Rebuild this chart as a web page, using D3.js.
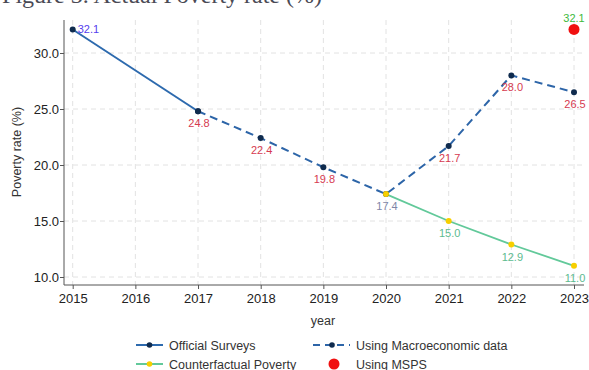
<!DOCTYPE html>
<html><head><meta charset="utf-8">
<script src="https://cdn.jsdelivr.net/npm/d3@7"></script>
<style>body{margin:0;background:#fff}svg{display:block}text{font-family:"Liberation Sans",Arial,sans-serif}</style>
</head><body><svg id="c" width="589" height="370"></svg>
<script>
const years = [2015,2016,2017,2018,2019,2020,2021,2022,2023];
const yTicks = [10,15,20,25,30];
const officialYears = [2015,2017];
const officialVals = [32.1,24.8];
const macroYears = [2017,2018,2019,2020,2021,2022,2023];
const macroVals = [24.8,22.4,19.8,17.4,21.7,28.0,26.5];
const cfYears = [2020,2021,2022,2023];
const cfVals = [17.4,15.0,12.9,11.0];
const mspsYears = [2023];
const mspsVals = [32.1];
const legendLabels = ["Official Surveys","Using Macroeconomic data","Counterfactual Poverty","Using MSPS"];

const svg = d3.select("#c");
const x = d3.scaleLinear().domain([2015,2023]).range([72.7,574]);
const y = d3.scaleLinear().domain([10,30]).range([277,53]);
const pTop = 20, pBottom = 285, pLeft = 64, pRight = 584;

// title (clipped at the top edge, as in the reference)
svg.append("text").attr("x",322).attr("y",3).attr("text-anchor","end")
  .style("font-family","'Liberation Serif',serif").attr("font-size",24).attr("fill","#4a4a55")
  .text("Figure 3. Actual Poverty rate (%)");

// grid
const g = svg.append("g");
g.selectAll(".hg").data(yTicks).join("line").attr("x1",pLeft).attr("x2",pRight)
  .attr("y1",d=>y(d)).attr("y2",d=>y(d)).attr("stroke","#e2e2e2").attr("stroke-dasharray","5,4");
g.selectAll(".vg").data(years).join("line").attr("y1",pTop).attr("y2",pBottom)
  .attr("x1",d=>x(d)).attr("x2",d=>x(d)).attr("stroke","#e2e2e2").attr("stroke-dasharray","5,4");

// axes
const yAxis = svg.append("g").attr("transform",`translate(${pLeft},0)`)
  .call(d3.axisLeft(y).tickValues(yTicks).tickFormat(d3.format(".1f")).tickSize(4).tickSizeOuter(0));
yAxis.select(".domain").attr("d",`M0,${pTop}V${pBottom}`).attr("stroke","#555");
const xAxis = svg.append("g").attr("transform",`translate(0,${pBottom})`)
  .call(d3.axisBottom(x).tickValues(years).tickFormat(d3.format("d")).tickSize(4).tickSizeOuter(0));
xAxis.select(".domain").attr("d",`M${pLeft},0H${pRight}`).attr("stroke","#555");
svg.selectAll(".tick line").attr("stroke","#555");
svg.selectAll(".tick text").attr("font-size",13).attr("fill","#222").style("font-family","'Liberation Sans',Arial,sans-serif");
yAxis.selectAll(".tick text").attr("x",-5);
xAxis.selectAll(".tick text").attr("y",9);

svg.append("text").attr("transform","translate(21,152) rotate(-90)").attr("text-anchor","middle")
  .attr("font-size",12.5).attr("fill","#333").text("Poverty rate (%)");
svg.append("text").attr("x",323).attr("y",325).attr("text-anchor","middle")
  .attr("font-size",12.5).attr("fill","#333").text("year");

const line = d3.line().x(d=>x(d[0])).y(d=>y(d[1]));
const zip = (a,b)=>a.map((v,i)=>[v,b[i]]);
const off = zip(officialYears,officialVals), mac = zip(macroYears,macroVals), cf = zip(cfYears,cfVals);

svg.append("path").attr("d",line(mac)).attr("fill","none").attr("stroke","#2d65a8").attr("stroke-width",2).attr("stroke-dasharray","8,5");
svg.append("path").attr("d",line(off)).attr("fill","none").attr("stroke","#2d6aae").attr("stroke-width",2);
svg.append("path").attr("d",line(cf)).attr("fill","none").attr("stroke","#62c99a").attr("stroke-width",1.8);

svg.selectAll(".md").data(off.concat(mac)).join("circle").attr("cx",d=>x(d[0])).attr("cy",d=>y(d[1])).attr("r",3).attr("fill","#0f2b4e");
svg.selectAll(".cd").data(cf).join("circle").attr("cx",d=>x(d[0])).attr("cy",d=>y(d[1])).attr("r",3).attr("fill","#f7cf00");
const ms = zip(mspsYears,mspsVals);
svg.selectAll(".ms").data(ms).join("circle").attr("cx",d=>x(d[0])).attr("cy",d=>y(d[1])).attr("r",5.5).attr("fill","#f01010");

const fmt = d3.format(".1f");
// labels
svg.selectAll(".ol").data(off.slice(0,1)).join("text").attr("x",d=>x(d[0])+5).attr("y",d=>y(d[1])+4)
  .attr("font-size",11).attr("fill","#5540ee").text(d=>fmt(d[1]));
svg.selectAll(".ml").data(mac.filter(d=>d[0]!==2020)).join("text").attr("x",d=>x(d[0])+1).attr("y",d=>y(d[1])+16)
  .attr("text-anchor","middle").attr("font-size",11).attr("fill","#d63a50").text(d=>fmt(d[1]));
svg.selectAll(".cl").data(cf).join("text").attr("x",d=>x(d[0])+1).attr("y",d=>y(d[1])+16)
  .attr("text-anchor","middle").attr("font-size",11).attr("fill",d=>d[0]===2020?"#7e86a8":"#5dbb8f").text(d=>fmt(d[1]));
svg.selectAll(".sl").data(ms).join("text").attr("x",d=>x(d[0])).attr("y",d=>y(d[1])-7)
  .attr("text-anchor","middle").attr("font-size",11).attr("fill","#3dba3d").text(d=>fmt(d[1]));

// legend
const lg = svg.append("g").attr("font-size",12.5).attr("fill","#333");
function item(x0,yy,type){
  if(type==="off"){lg.append("line").attr("x1",x0).attr("x2",x0+27).attr("y1",yy).attr("y2",yy).attr("stroke","#2d6aae").attr("stroke-width",2);
    lg.append("circle").attr("cx",x0+13.5).attr("cy",yy).attr("r",2.8).attr("fill","#0f2b4e");}
  if(type==="mac"){lg.append("line").attr("x1",x0).attr("x2",x0+37).attr("y1",yy).attr("y2",yy).attr("stroke","#2d65a8").attr("stroke-width",2).attr("stroke-dasharray","7,5");
    lg.append("circle").attr("cx",x0+19).attr("cy",yy).attr("r",2.8).attr("fill","#0f2b4e");}
  if(type==="cf"){lg.append("line").attr("x1",x0).attr("x2",x0+27).attr("y1",yy).attr("y2",yy).attr("stroke","#62c99a").attr("stroke-width",2);
    lg.append("circle").attr("cx",x0+13.5).attr("cy",yy).attr("r",2.8).attr("fill","#f7cf00");}
  if(type==="ms"){lg.append("circle").attr("cx",x0).attr("cy",yy).attr("r",5.5).attr("fill","#f01010");}
}
item(136,345,"off"); item(313,345,"mac"); item(136,364,"cf"); item(334,364,"ms");
lg.append("text").attr("x",169).attr("y",349.5).text(legendLabels[0]);
lg.append("text").attr("x",356).attr("y",349.5).text(legendLabels[1]);
lg.append("text").attr("x",169).attr("y",369).text(legendLabels[2]);
lg.append("text").attr("x",356).attr("y",369).text(legendLabels[3]);
</script></body></html>
